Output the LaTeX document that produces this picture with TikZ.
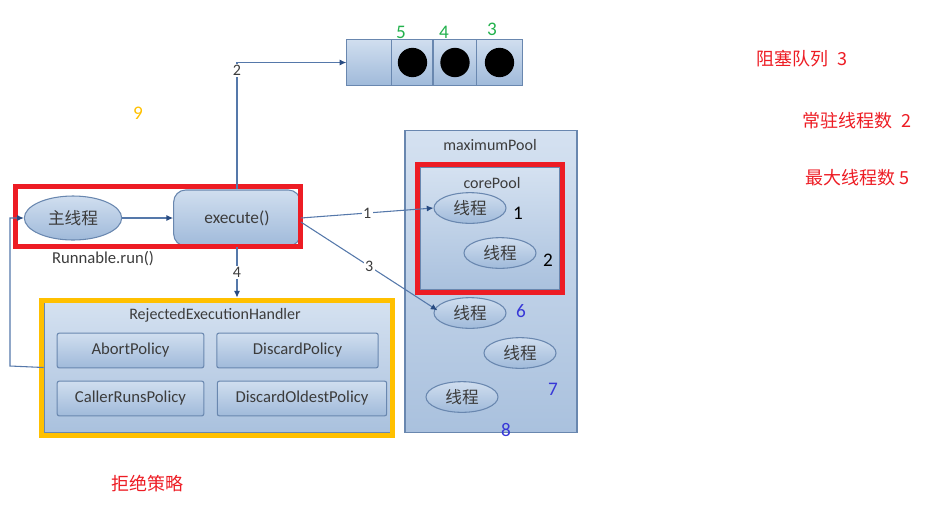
\documentclass[tikz,border=0pt]{standalone}
\usepackage{fontspec}
\setmainfont{Carlito}
\newfontfamily\cjk{Noto Sans CJK SC}
\usetikzlibrary{shapes.geometric,arrows.meta,calc}
\definecolor{boxtop}{RGB}{208,222,239}
\definecolor{boxbot}{RGB}{160,186,218}
\definecolor{boxline}{RGB}{105,135,175}
\definecolor{flowline}{RGB}{85,120,170}
\definecolor{tipblue}{RGB}{40,75,130}
\definecolor{txtgray}{RGB}{60,60,60}
\definecolor{mkred}{RGB}{237,28,36}
\definecolor{mkyellow}{RGB}{255,192,0}
\definecolor{mkgreen}{RGB}{34,177,76}
\definecolor{mkblue}{RGB}{55,55,215}

\begin{document}
\begin{tikzpicture}[x=0.75pt,y=-0.75pt]

\tikzstyle{blue} = [draw=boxline,line width=0.8pt,top color=boxtop,
    bottom color=boxbot,text=txtgray,font=\large]
\tikzstyle{thread} = [blue,ellipse,minimum width=54pt,minimum height=23pt,
    inner sep=0,font=\cjk\fontsize{12.5}{14}\selectfont]
\tikzstyle{pool} = [blue,rectangle,inner sep=0,top color=boxtop!90!white,
    bottom color=boxbot!90!white]
\tikzstyle{policy} = [blue,rectangle,rounded corners=1.5pt,minimum height=26pt,
    inner sep=0,font=\fontsize{12.5}{14}\selectfont]
\tikzstyle{cell} = [blue,rectangle,minimum width=32pt,minimum height=34pt,inner sep=0]
\tikzstyle{frame} = [draw,line width=3.75pt,inner sep=0,fill=none]
\tikzstyle{flow} = [draw=flowline,line width=0.8pt,
    -{Latex[length=5pt,width=4.5pt,color=tipblue]}]
\tikzstyle{num} = [fill=white,inner sep=1pt,text=txtgray,font=\large]

\useasboundingbox (0,0) rectangle (945,512);

% =========================
% main thread and execute()
% =========================
\node[thread,minimum width=73pt,minimum height=33pt,
    font=\cjk\fontsize{12.5}{14}\selectfont] (main) at (73,218) {主线程};
\node[blue,rounded corners=9pt,minimum width=95pt,minimum height=42pt,
    font=\fontsize{13}{15}\selectfont] (exec) at (237,218) {execute()};
\node[text=txtgray,font=\fontsize{12.5}{14}\selectfont] (runlbl) at (103,259) {Runnable.run()};
\node[frame,draw=mkred,minimum width=214pt,minimum height=45pt]
    (mainframe) at (158.25,216.5) {};

% =========================
% blocking queue
% =========================
\node[cell,minimum width=34pt] (q0) at (369.5,62.5) {};
\node[cell,minimum width=31pt] (q1) at (412.5,62.5) {};
\node[cell,minimum width=33pt] (q2) at (455,62.5) {};
\node[cell,minimum width=34pt] (q3) at (499.5,62.5) {};
\foreach \c in {q1,q2,q3}
    \fill[black] (\c.center) circle (11pt);
\node[text=mkgreen,font=\Large] (n5) at (401,32) {5};
\node[text=mkgreen,font=\Large] (n4) at (444,32) {4};
\node[text=mkgreen,font=\Large] (n3) at (492,29) {3};

% =========================
% maximumPool / corePool
% =========================
\node[pool,minimum width=129pt,minimum height=227pt] (maxpool) at (491,281.5) {};
\node[text=txtgray,font=\large] (maxlbl) at (490,145) {maximumPool};
\node[pool,minimum width=105pt,minimum height=92pt] (corepool) at (490,228.5) {};
\node[text=txtgray,font=\large] (corelbl) at (492,183) {corePool};
\node[frame,draw=mkred,minimum width=109pt,minimum height=96pt]
    (coreframe) at (490.25,228.5) {};

\node[thread] (t1) at (470,208) {线程};
\node[thread] (t2) at (500,253) {线程};
\node[thread] (t6) at (470,313) {线程};
\node[thread] (t7) at (520,353) {线程};
\node[thread] (t8) at (462,397) {线程};

\node[font=\Large] (l1) at (518,213) {1};
\node[font=\Large] (l2) at (548,260) {2};
\node[text=mkblue,font=\Large] (l6) at (521,311) {6};
\node[text=mkblue,font=\Large] (l7) at (553,389) {7};
\node[text=mkblue,font=\Large] (l8) at (506,430) {8};

% =========================
% RejectedExecutionHandler
% =========================
\node[pool,minimum width=260pt,minimum height=98pt] (handler) at (217.5,367.5) {};
\node[text=txtgray,font=\large] (hlbl) at (215,315) {RejectedExecutionHandler};
\node[policy,minimum width=110pt] (abort) at (130.5,350.5) {AbortPolicy};
\node[policy,minimum width=121pt] (discard) at (297.5,350.5) {DiscardPolicy};
\node[policy,minimum width=110pt] (caller) at (130.5,398.5) {CallerRunsPolicy};
\node[policy,minimum width=127pt] (oldest) at (302,398.5) {DiscardOldestPolicy};
\node[frame,draw=mkyellow,minimum width=263pt,minimum height=101.5pt]
    (hframe) at (217.25,367.75) {};

% =========================
% connectors
% =========================
\draw[flow] (main) -- (exec);
\draw[flow] (exec.north) |- node[num,pos=0.47] {2} (q0.west);
\draw[flow] (exec.east) -- node[num] {1} (t1.west);
\draw[flow] ([yshift=-3pt]exec.east) -- node[num] {3} ([xshift=3pt,yshift=2pt]t6.west);
\draw[flow] (exec.south) -- node[num] {4} (exec.south |- hframe.north);
\coordinate (back) at (10,366);
\draw[flow] (handler.west) -- (back) |- (main.west);

% =========================
% notes
% =========================
\node[text=mkyellow,font=\Large] (n9) at (138,113) {9};
\node[text=mkred,font=\cjk\fontsize{13.5}{16}\selectfont] (reject) at (147,484) {拒绝策略};
\node[text=mkred,font=\cjk\fontsize{13.5}{16}\selectfont] (qnote) at (802,59) {阻塞队列\ \ 3};
\node[text=mkred,font=\cjk\fontsize{13.5}{16}\selectfont] (corenote) at (857,121) {常驻线程数\ \ 2};
\node[text=mkred,font=\cjk\fontsize{13.5}{16}\selectfont] (maxnote) at (857,178) {最大线程数\ 5};

\end{tikzpicture}
\end{document}
